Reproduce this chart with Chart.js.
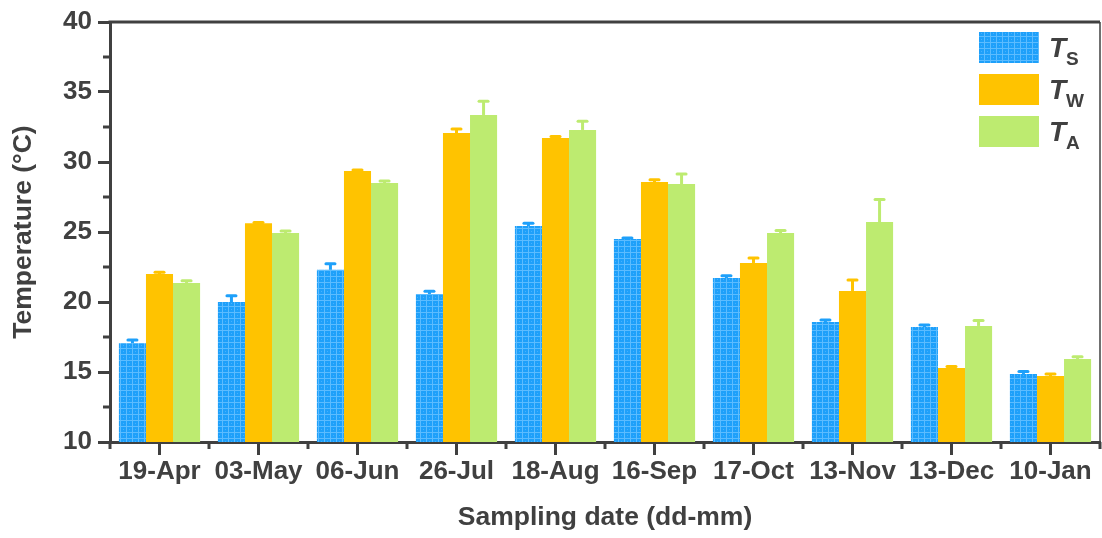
<!DOCTYPE html>
<html>
<head>
<meta charset="utf-8">
<script src="https://cdn.jsdelivr.net/npm/chart.js@4.4.1/dist/chart.umd.min.js"></script>
<style>
  html, body { margin: 0; padding: 0; background: #fff; }
  #wrap { width: 1102px; height: 538px; position: relative; }
</style>
</head>
<body>
<div id="wrap"><canvas id="tempChart"></canvas></div>
<script>
const dates = ['19-Apr', '03-May', '06-Jun', '26-Jul', '18-Aug', '16-Sep', '17-Oct', '13-Nov', '13-Dec', '10-Jan'];

// mean values (°C)
const tsValues = [17.05, 20.0, 22.3, 20.57, 25.43, 24.5, 21.71, 18.57, 18.21, 14.86];
const twValues = [22.0, 25.62, 29.36, 32.07, 31.71, 28.57, 22.79, 20.79, 15.29, 14.71];
const taValues = [21.36, 24.93, 28.5, 33.36, 32.29, 28.43, 24.93, 25.71, 18.29, 15.93];

// error bars (upper side only)
const tsErrors = [0.23, 0.45, 0.43, 0.2, 0.19, 0.07, 0.17, 0.14, 0.14, 0.17];
const twErrors = [0.12, 0.05, 0.07, 0.29, 0.12, 0.17, 0.36, 0.79, 0.1, 0.14];
const taErrors = [0.16, 0.14, 0.15, 0.98, 0.62, 0.71, 0.17, 1.62, 0.38, 0.16];

const yTickLabels = [10, 15, 20, 25, 30, 35, 40];

const axisColor = '#404040';
const blue = '#1ea0fa';
const orange = '#ffc300';
const green = '#bdeb70';

// small grid texture for the T_S bars
function makeGridPattern() {
  const c = document.createElement('canvas');
  c.width = 6;
  c.height = 6;
  const g = c.getContext('2d');
  g.fillStyle = blue;
  g.fillRect(0, 0, 6, 6);
  g.fillStyle = '#5cbcff';
  g.fillRect(0, 0, 6, 1);
  g.fillRect(0, 0, 1, 6);
  g.fillStyle = '#45b0ff';
  g.fillRect(3, 3, 1, 1);
  return g.createPattern(c, 'repeat');
}
const tsPattern = makeGridPattern();

const errorSets = [tsErrors, twErrors, taErrors];
const legendItems = [
  { sub: 'S', color: tsPattern },
  { sub: 'W', color: orange },
  { sub: 'A', color: green }
];

const decorPlugin = {
  id: 'decor',
  afterDatasetsDraw(chart) {
    const ctx = chart.ctx;
    const y = chart.scales.y;
    // error bars
    chart.data.datasets.forEach((ds, i) => {
      const meta = chart.getDatasetMeta(i);
      meta.data.forEach((bar, j) => {
        const top = y.getPixelForValue(ds.data[j]);
        const end = y.getPixelForValue(ds.data[j] + errorSets[i][j]);
        ctx.save();
        ctx.strokeStyle = ds.errColor;
        ctx.lineWidth = 3;
        ctx.lineCap = 'butt';
        ctx.beginPath();
        ctx.moveTo(bar.x, top);
        ctx.lineTo(bar.x, end);
        ctx.stroke();
        ctx.lineCap = 'round';
        ctx.beginPath();
        ctx.moveTo(bar.x - 4.5, end);
        ctx.lineTo(bar.x + 4.5, end);
        ctx.stroke();
        ctx.restore();
      });
    });
  },
  afterDraw(chart) {
    const ctx = chart.ctx;
    const area = chart.chartArea;
    const x = chart.scales.x;
    const y = chart.scales.y;
    ctx.save();
    ctx.strokeStyle = axisColor;
    // frame: thick top, thin right
    ctx.lineWidth = 3;
    ctx.beginPath();
    ctx.moveTo(area.left - 1.5, area.top);
    ctx.lineTo(area.right, area.top);
    ctx.stroke();
    ctx.lineWidth = 1.5;
    ctx.beginPath();
    ctx.moveTo(area.right, area.top);
    ctx.lineTo(area.right, area.bottom);
    ctx.stroke();
    // minor ticks on y
    ctx.lineWidth = 3;
    for (let v = 12.5; v < 40; v += 5) {
      const py = y.getPixelForValue(v);
      ctx.beginPath();
      ctx.moveTo(area.left - 7, py);
      ctx.lineTo(area.left, py);
      ctx.stroke();
    }
    // minor ticks on x at category boundaries
    for (let k = 0; k <= dates.length; k++) {
      const px = x.getPixelForValue(k - 0.5);
      ctx.beginPath();
      ctx.moveTo(px, area.bottom);
      ctx.lineTo(px, area.bottom + 7);
      ctx.stroke();
    }
    // legend
    legendItems.forEach((item, i) => {
      const ly = 32 + i * 42;
      ctx.fillStyle = item.color;
      ctx.fillRect(979, ly, 60, 31);
      ctx.fillStyle = axisColor;
      ctx.textBaseline = 'alphabetic';
      ctx.font = 'italic bold 28px "Liberation Sans", Arial, sans-serif';
      ctx.fillText('T', 1049, ly + 25);
      ctx.font = 'bold 19px "Liberation Sans", Arial, sans-serif';
      ctx.fillText(item.sub, 1066, ly + 33);
    });
    ctx.restore();
  }
};

const font = { family: '"Liberation Sans", Arial, sans-serif', weight: 'bold', size: 26 };
const titleFont = { family: '"Liberation Sans", Arial, sans-serif', weight: 'bold', size: 26.5 };

new Chart(document.getElementById('tempChart'), {
  type: 'bar',
  data: {
    labels: dates,
    datasets: [
      { label: 'TS', data: tsValues, backgroundColor: tsPattern, errColor: blue },
      { label: 'TW', data: twValues, backgroundColor: orange, errColor: orange },
      { label: 'TA', data: taValues, backgroundColor: green, errColor: green }
    ]
  },
  options: {
    responsive: true,
    maintainAspectRatio: false,
    animation: false,
    datasets: { bar: { categoryPercentage: 0.82, barPercentage: 1.0 } },
    layout: { padding: { top: 22, right: 2, left: 0, bottom: 0 } },
    plugins: {
      legend: { display: false },
      tooltip: { enabled: false }
    },
    scales: {
      x: {
        grid: { offset: false, drawOnChartArea: false, tickLength: 13, tickWidth: 3, tickColor: axisColor },
        border: { color: axisColor, width: 3 },
        ticks: { color: axisColor, font: font, padding: 1, maxRotation: 0, autoSkip: false },
        title: { display: true, text: 'Sampling date (dd-mm)', color: axisColor, font: titleFont, padding: { top: 8, bottom: 4 } },
        afterFit(scale) { scale.height = 96; }
      },
      y: {
        min: 10,
        max: 40,
        afterBuildTicks(scale) { scale.ticks = yTickLabels.map(v => ({ value: v })); },
        grid: { drawOnChartArea: false, tickLength: 12, tickWidth: 3, tickColor: axisColor },
        border: { color: axisColor, width: 3 },
        ticks: { color: axisColor, font: font, padding: 6 },
        title: { display: true, text: 'Temperature (°C)', color: axisColor, font: titleFont, padding: { top: 8, bottom: 4 } },
        afterFit(scale) { scale.width = 110; }
      }
    }
  },
  plugins: [decorPlugin]
});
</script>
</body>
</html>
